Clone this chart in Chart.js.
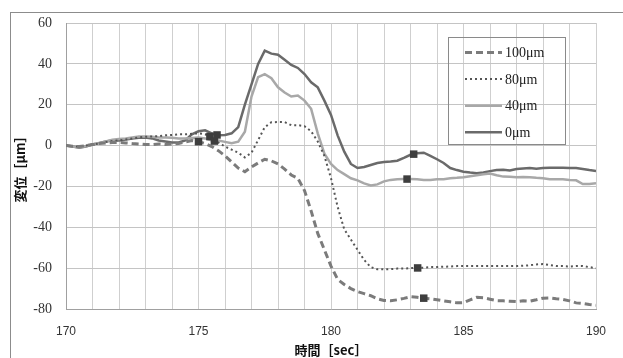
<!DOCTYPE html>
<html>
<head>
<meta charset="utf-8">
<script src="https://cdn.jsdelivr.net/npm/chart.js@4/dist/chart.umd.min.js"></script>
<style>
  html, body { margin: 0; padding: 0; background: #fff; }
  #wrap { position: relative; width: 623px; height: 358px; overflow: hidden; }
  #frame { position: absolute; left: 10px; top: 12px; width: 640px; height: 380px; border: 1px solid #8c8c8c; }
  #chart { position: absolute; left: 0; top: 0; }
</style>
</head>
<body>
<div id="wrap">
  <div id="frame"></div>
  <canvas id="chart" width="623" height="358"></canvas>
</div>
<script>
// 時間 [sec] : 0.25 s 刻み
const times = [];
for (let i = 0; i <= 80; i++) times.push(170 + i * 0.25);

const labels = ['100μm', '80μm', '40μm', '0μm'];

const d100 = [
  0, -0.3, -0.5, 0, 0.5, 1, 1.3, 1.5, 1.5, 1.3, 1, 0.8, 0.5, 0.5, 0.8, 0.5,
  0.8, 1, 1.8, 2.5, 1.9, 1, -0.5, -2.5, -5, -8, -11, -12.8, -10.5, -8.5, -6.7, -7.5,
  -9, -11.5, -14.4, -16, -22, -32, -43, -51, -59, -65.5, -68, -70, -71.5, -72.5, -73.5, -75,
  -75.8, -76, -75.5, -74.8, -74, -74.3, -74.7, -75, -75.5, -76, -76.5, -77, -76.9, -75.5, -74.3, -74.5,
  -75.2, -75.9, -76, -76.2, -76.4, -76, -76.2, -75.5, -74.7, -74.6, -75, -75.3, -76, -77, -77.3, -77.8,
  -78.2
];
const d80 = [
  0, -0.3, -0.5, 0, 0.5, 1, 1.8, 2.2, 2.5, 3, 3.5, 4, 4.3, 4.5, 4.6, 5,
  5.2, 5.5, 5.5, 5.8, 6, 5.5, 4, 1.5, -0.5, -2, -3.5, -5.8, -3.5, 2.7, 9, 11.4,
  11.5, 11.5, 10, 10, 9.5, 7, 2, -5, -16, -30, -41, -46, -51, -56, -59.5, -60.6,
  -60.6, -60.5, -60.2, -60.2, -60, -59.9, -59.8, -59.5, -59.5, -59.3, -59.2, -59, -59, -59, -59, -59,
  -59, -59, -59, -59, -59, -58.8, -58.6, -58.2, -58, -58.5, -59, -59, -59.2, -59, -59, -59.5,
  -60
];
const d40 = [
  0, -0.5, -0.8, -0.3, 0.5, 1.3, 2, 2.8, 3.2, 3.5, 4, 4.4, 4.5, 4.3, 4, 4,
  3.8, 3.5, 3.5, 3.7, 4, 3.5, 2.5, 2.5, 1.8, 1.1, 1.9, 6.8, 24, 33.5, 35, 33,
  28.5, 26, 24, 24.5, 22, 18, 6, -4, -9, -12, -14, -16, -17, -18.5, -19.5, -19,
  -17.5, -16.8, -16.5, -16.4, -16.4, -16.5, -16.8, -16.8, -16.5, -16.5, -16, -15.8, -15.5, -15, -14.5, -14,
  -13.7, -14.5, -15.2, -15.3, -15.5, -15.4, -15.5, -15.8, -16, -16.5, -16.5, -16.5, -16.8, -17, -18.8, -18.8,
  -18.5
];
const d0 = [
  0, -0.5, -1, -0.5, 0.5, 1.2, 2, 2.5, 2.5, 3, 3.5, 3.8, 4, 3.5, 2.5, 2,
  1.5, 1.5, 2.5, 5.5, 7, 7.5, 6, 5, 5.2, 6, 9, 20, 30, 40, 46.5, 45,
  44.5, 42, 39.5, 38, 35, 31, 28.5, 22, 15, 5, -3, -9, -11, -10.5, -9.5, -8.5,
  -8, -7.8, -7.4, -6, -4.5, -3.8, -3.5, -5, -6.7, -8.5, -11, -12, -12.8, -13.2, -13.5, -13.2,
  -12.5, -12, -11.8, -12.2, -11.5, -11.2, -11, -11.3, -11, -10.9, -10.8, -10.8, -11, -11, -11.5, -12,
  -12.4
];

// ■ マーカー
const markerTimes = [175.0, 175.43, 175.6, 175.7, 183.5, 183.27, 182.87, 183.12];
const markerValues = [1.9, 4.4, 2.2, 5.2, -74.7, -59.9, -16.4, -4.2];

const yTicks = [-80, -60, -40, -20, 0, 20, 40, 60];

const toXY = arr => arr.map((v, i) => ({ x: times[i], y: v }));

const styles = [
  { color: '#7b7b7b', width: 3, dash: [7, 4] },
  { color: '#555555', width: 2, dash: [2, 3] },
  { color: '#a8a8a8', width: 2.5, dash: [] },
  { color: '#6a6a6a', width: 2.5, dash: [] },
];
const series = [d100, d80, d40, d0];

const lineSets = series.map((d, i) => ({
  label: labels[i],
  data: toXY(d),
  borderColor: styles[i].color,
  borderWidth: styles[i].width,
  borderDash: styles[i].dash,
  pointRadius: 0,
  tension: 0,
  fill: false,
  order: 1,
}));

const markerSet = {
  label: 'marker',
  type: 'scatter',
  data: markerTimes.map((t, i) => ({ x: t, y: markerValues[i] })),
  pointStyle: 'rect',
  pointRadius: 5.3,
  backgroundColor: '#3e3e3e',
  borderColor: '#3e3e3e',
  borderWidth: 0,
  order: 0,
};

// 凡例（枠のみ、背景は透明）
const boxLegend = {
  id: 'boxLegend',
  afterDraw(chart) {
    const ctx = chart.ctx;
    const bx = 448.5, by = 37.5, bw = 117, bh = 107;
    ctx.save();
    ctx.strokeStyle = '#8a8a8a';
    ctx.lineWidth = 1;
    ctx.strokeRect(bx, by, bw, bh);
    ctx.font = '14px "Liberation Serif", "DejaVu Serif", serif';
    ctx.textBaseline = 'middle';
    ctx.fillStyle = '#222';
    labels.forEach((lab, i) => {
      const y = 52.5 + i * 26.6;
      ctx.beginPath();
      ctx.strokeStyle = styles[i].color;
      ctx.lineWidth = styles[i].width;
      ctx.setLineDash(styles[i].dash);
      ctx.moveTo(465, y);
      ctx.lineTo(502, y);
      ctx.stroke();
      ctx.setLineDash([]);
      ctx.fillText(lab, 505, y + 1);
    });
    ctx.restore();
  }
};

new Chart(document.getElementById('chart'), {
  type: 'line',
  data: { datasets: [markerSet, ...lineSets] },
  options: {
    responsive: false,
    animation: false,
    layout: { padding: { left: 0, top: 23, right: 27, bottom: 0 } },
    plugins: { legend: { display: false }, tooltip: { enabled: false } },
    scales: {
      x: {
        type: 'linear',
        min: 170, max: 190,
        afterFit: s => { s.height = 49; },
        grid: { color: '#cfcfcf', drawTicks: false },
        border: { color: '#a0a0a0' },
        ticks: {
          stepSize: 1,
          padding: 15,
          autoSkip: false,
          maxRotation: 0,
          color: '#333',
          font: { family: '"Liberation Sans", Arial, sans-serif', size: 12 },
          callback: v => (v % 5 === 0 ? String(v) : ''),
        },
        title: {
          display: true,
          text: '時間［sec］',
          color: '#111',
          font: { family: '"Noto Sans CJK JP", sans-serif', size: 13, weight: 'bold' },
          padding: { top: 0, bottom: 0 },
        },
      },
      y: {
        min: -80, max: 60,
        afterFit: s => { s.width = 66; },
        afterBuildTicks: s => { s.ticks = yTicks.map(v => ({ value: v })); },
        grid: { color: '#c4c4c4', drawTicks: false },
        border: { color: '#a0a0a0' },
        ticks: {
          padding: 14,
          color: '#333',
          font: { family: '"Liberation Serif", "DejaVu Serif", serif', size: 14 },
        },
        title: {
          display: true,
          text: '変位［μm］',
          color: '#111',
          font: { family: '"Noto Sans CJK JP", sans-serif', size: 13, weight: 'bold' },
          padding: { top: 12, bottom: 0 },
        },
      },
    },
  },
  plugins: [boxLegend],
});
</script>
</body>
</html>
